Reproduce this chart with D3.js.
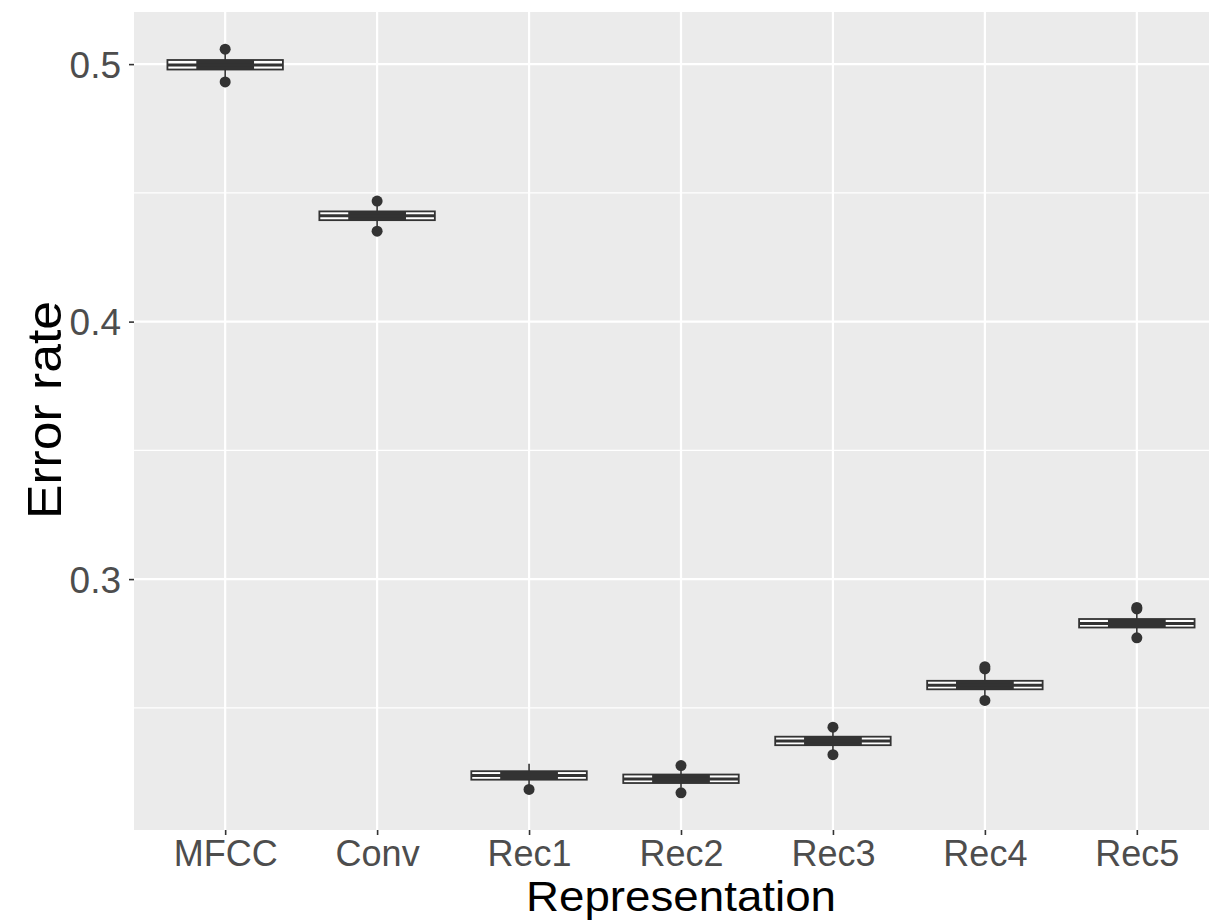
<!DOCTYPE html>
<html>
<head>
<meta charset="utf-8">
<script src="https://cdn.jsdelivr.net/npm/d3@7"></script>
<style>
  html, body { margin: 0; padding: 0; background: #fff; overflow: hidden; }
  svg { display: block; }
  .tick text { font-family: "Liberation Sans", Arial, sans-serif; }
</style>
</head>
<body>
<svg width="1209" height="921"></svg>
<script>
// box statistics
const categories = ['MFCC', 'Conv', 'Rec1', 'Rec2', 'Rec3', 'Rec4', 'Rec5'];
const q1 = [0.4979, 0.4394, 0.2221, 0.2208, 0.2355, 0.2572, 0.2812];
const medians = [0.4997, 0.4411, 0.2237, 0.2224, 0.2371, 0.2588, 0.2828];
const q3 = [0.5016, 0.4428, 0.2254, 0.2241, 0.2388, 0.2605, 0.2845];
const whiskerLo = [0.4950, 0.4370, 0.2200, 0.2190, 0.2335, 0.2545, 0.2790];
const whiskerHi = [0.5045, 0.4450, 0.2283, 0.2262, 0.2410, 0.2640, 0.2872];
const outliers = [
  [0.5058, 0.4931],
  [0.4468, 0.4351],
  [0.2183],
  [0.2276, 0.2170],
  [0.2425, 0.2318],
  [0.2651, 0.2660, 0.2529],
  [0.2884, 0.2890, 0.2772]
];
const yTicks = [0.3, 0.4, 0.5];
const yMinor = [0.25, 0.35, 0.45];

const margin = { top: 12, left: 134, bottom: 91 };
const panelRight = 1228;
const width = panelRight - margin.left;
const height = 921 - margin.top - margin.bottom;

const svg = d3.select('svg');
const g = svg.append('g')
  .attr('transform', 'translate(' + margin.left + ',' + margin.top + ')');

// ggplot-like discrete expansion: 0.6 units each side
const x = d3.scalePoint()
  .domain(categories)
  .range([0, width])
  .padding(0.6);
const step = x.step();

const allVals = outliers.flat().concat(whiskerLo, whiskerHi);
const lo = d3.min(allVals), hi = d3.max(allVals);
const pad = (hi - lo) * 0.05;
const y = d3.scaleLinear().domain([lo - pad, hi + pad]).range([height, 0]);

// panel
g.append('rect')
  .attr('width', width).attr('height', height)
  .attr('fill', '#ebebeb');

g.selectAll('.minor')
  .data(yMinor)
  .enter().append('line')
  .attr('x1', 0).attr('x2', width)
  .attr('y1', d => y(d)).attr('y2', d => y(d))
  .attr('stroke', '#fff').attr('stroke-width', 1.1);

g.selectAll('.major-y')
  .data(yTicks)
  .enter().append('line')
  .attr('x1', 0).attr('x2', width)
  .attr('y1', d => y(d)).attr('y2', d => y(d))
  .attr('stroke', '#fff').attr('stroke-width', 2.2);

g.selectAll('.major-x')
  .data(categories)
  .enter().append('line')
  .attr('x1', d => x(d)).attr('x2', d => x(d))
  .attr('y1', 0).attr('y2', height)
  .attr('stroke', '#fff').attr('stroke-width', 2.2);

// boxplots
const boxW = step * 0.76;
const ink = '#333333';
categories.forEach((c, i) => {
  const cx = x(c);
  const bg = g.append('g');
  bg.append('line')
    .attr('x1', cx).attr('x2', cx)
    .attr('y1', y(q3[i])).attr('y2', y(whiskerHi[i]))
    .attr('stroke', ink).attr('stroke-width', 1.6);
  bg.append('line')
    .attr('x1', cx).attr('x2', cx)
    .attr('y1', y(q1[i])).attr('y2', y(whiskerLo[i]))
    .attr('stroke', ink).attr('stroke-width', 1.6);
  bg.append('rect')
    .attr('x', cx - boxW / 2).attr('width', boxW)
    .attr('y', y(q3[i])).attr('height', y(q1[i]) - y(q3[i]))
    .attr('fill', '#fff')
    .attr('stroke', ink).attr('stroke-width', 1.8);
  // notch folds into a dark band around the median
  bg.append('rect')
    .attr('x', cx - boxW / 4).attr('width', boxW / 2)
    .attr('y', y(q3[i])).attr('height', y(q1[i]) - y(q3[i]))
    .attr('fill', ink);
  bg.append('line')
    .attr('x1', cx - boxW / 2).attr('x2', cx + boxW / 2)
    .attr('y1', y(medians[i])).attr('y2', y(medians[i]))
    .attr('stroke', ink).attr('stroke-width', 3);
  bg.selectAll('circle')
    .data(outliers[i])
    .enter().append('circle')
    .attr('cx', cx)
    .attr('cy', d => y(d))
    .attr('r', 5.5)
    .attr('fill', ink);
});

// axes
const yAxis = g.append('g')
  .call(d3.axisLeft(y).tickValues(yTicks).tickFormat(d3.format('.1f')).tickSizeOuter(0).tickSize(5));
yAxis.select('.domain').remove();
yAxis.selectAll('.tick line').attr('stroke', ink).attr('stroke-width', 1.6);
yAxis.selectAll('.tick text')
  .attr('x', -13)
  .attr('dy', '0.36em')
  .attr('fill', '#4d4d4d')
  .style('font-size', '37px');

const xAxis = g.append('g')
  .attr('transform', 'translate(0,' + height + ')')
  .call(d3.axisBottom(x).tickSizeOuter(0).tickSize(5));
xAxis.select('.domain').remove();
xAxis.selectAll('.tick line').attr('stroke', ink).attr('stroke-width', 1.6);
xAxis.selectAll('.tick text')
  .attr('y', 36)
  .attr('dy', 0)
  .attr('fill', '#4d4d4d')
  .style('font-size', '36px');

// titles
svg.append('text')
  .attr('x', margin.left + width / 2)
  .attr('y', 911)
  .attr('text-anchor', 'middle')
  .style('font-family', '"Liberation Sans", Arial, sans-serif')
  .style('font-size', '43px')
  .attr('textLength', 310)
  .attr('lengthAdjust', 'spacingAndGlyphs')
  .attr('fill', '#000')
  .text('Representation');

svg.append('text')
  .attr('transform', 'translate(61,410) rotate(-90)')
  .attr('text-anchor', 'middle')
  .style('font-family', '"Liberation Sans", Arial, sans-serif')
  .style('font-size', '48px')
  .attr('textLength', 218)
  .attr('lengthAdjust', 'spacingAndGlyphs')
  .attr('fill', '#000')
  .text('Error rate');
</script>
</body>
</html>
